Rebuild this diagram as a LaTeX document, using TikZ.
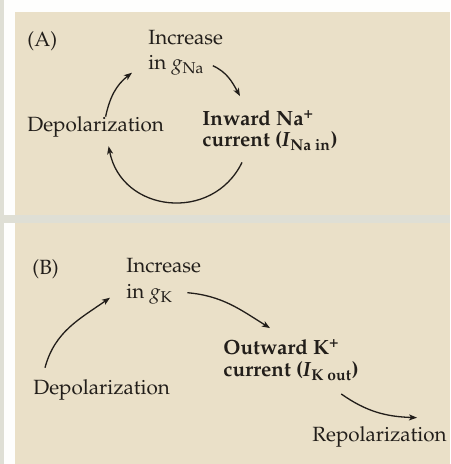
\documentclass[tikz,border=0pt]{standalone}
\usepackage[T1]{fontenc}
\usepackage{mathpazo}
\usepackage{amssymb,amsmath}
\usetikzlibrary{arrows.meta}
\definecolor{panel}{HTML}{EAE0C8}
\definecolor{strip}{HTML}{DFDFD5}
\definecolor{ink}{HTML}{221E1A}
\tikzset{
  lbl/.style={anchor=base west,inner sep=0pt,text=ink,font=\fontsize{10.3}{12}\selectfont},
  boldlbl/.style={lbl,font=\fontsize{10.3}{12}\selectfont\bfseries},
  arr/.style={ink,line width=0.65pt,-{Stealth[length=4pt,width=3pt,inset=1pt]}}
}

\begin{document}
\begin{tikzpicture}[x=0.5pt,y=0.5pt]
  \useasboundingbox (0,0) rectangle (450,464);
  \fill[white!96!strip] (0,0) rectangle (450,464);
  \fill[strip] (0,0) rectangle (4,464);
  \fill[strip] (0,241) rectangle (450,249);
  \fill[panel] (15,249) rectangle (450,452);
  \fill[panel] (15,0) rectangle (450,241);

  % (A) the Na+ cycle
  \node[lbl] (labA) at (27,417) {(A)};
  \node[lbl] (incA) at (148,419) {Increase};
  \node[lbl] (gNa) at (148,394) {in $g_{\mathrm{Na}}$};
  \node[lbl] (depA) at (27,332) {Depolarization};
  \node[boldlbl] (inwA) at (202,338) {Inward Na\textsuperscript{+}};
  \node[boldlbl] (curA) at (202,317) {current (\textit{I}$_{\textbf{Na in}}$)};
  \draw[arr] ([xshift=5pt]depA.north) to[out=78,in=218] ([xshift=-8pt,yshift=-3.5pt]gNa.west);
  \draw[arr] ([xshift=4pt]gNa.east) to[out=-25,in=119] ([xshift=19pt,yshift=7pt]inwA.north west);
  \draw[arr] ([xshift=20pt,yshift=-5.5pt]curA.south west) to[out=-116,in=-79,looseness=1.29] ([xshift=6.5pt,yshift=-4pt]depA.south);

  % (B) the K+ current
  \node[lbl] (labB) at (32,189) {(B)};
  \node[lbl] (incB) at (126,191) {Increase};
  \node[lbl] (gK) at (126,165) {in $g_{\mathrm{K}}$};
  \node[lbl] (depB) at (33,69) {Depolarization};
  \node[boldlbl] (outB) at (223,109) {Outward K\textsuperscript{+}};
  \node[boldlbl] (curB) at (223,87) {current (\textit{I}$_{\textbf{K out}}$)};
  \node[lbl] (repB) at (312,22) {Repolarization};
  \draw[arr] ([xshift=6pt,yshift=6pt]depB.north west) to[out=75,in=215] ([xshift=-8pt,yshift=-1.5pt]gK.west);
  \draw[arr] ([xshift=7pt,yshift=1pt]gK.east) to[out=-5,in=148] ([xshift=23.5pt,yshift=5.5pt]outB.north west);
  \draw[arr] ([xshift=-9pt,yshift=-6.5pt]curB.south east) to[out=-35,in=178] ([xshift=-15pt,yshift=4.5pt]repB.north east);
\end{tikzpicture}
\end{document}
